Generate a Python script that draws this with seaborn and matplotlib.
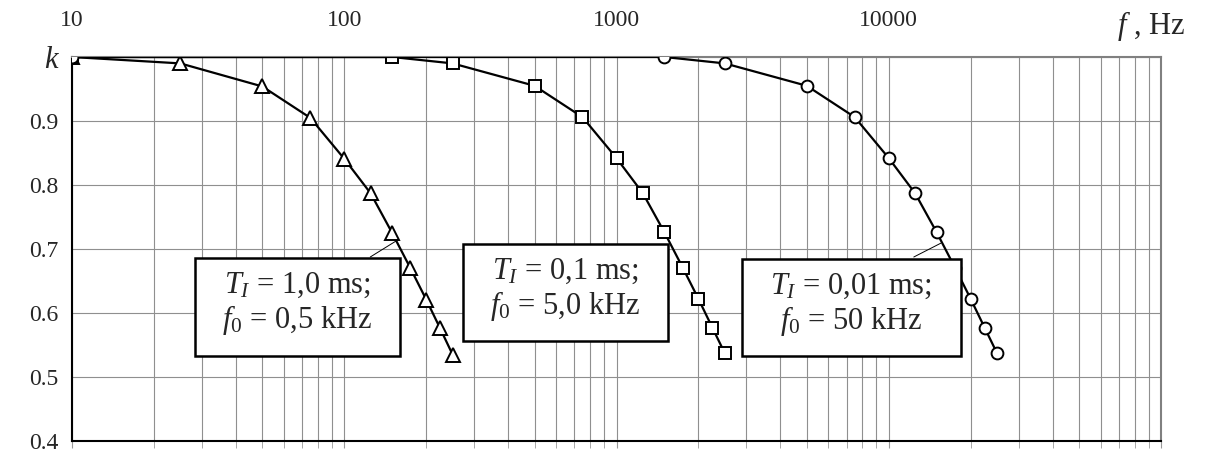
import numpy as np
import matplotlib
matplotlib.use("Agg")
import matplotlib.pyplot as plt
from matplotlib.patches import Rectangle
from matplotlib.ticker import FixedLocator, LogLocator, NullFormatter
import seaborn as sns

# ── Data ───────────────────────────────────────────────────────────────────────
f_tri = [10, 25, 50, 75, 100, 125, 150, 175, 200, 225, 250]
k_tri = [1.0, 0.99, 0.954, 0.905, 0.841, 0.787, 0.725, 0.670, 0.621, 0.576, 0.535]

f_sq = [10, 150, 250, 500, 750, 1000, 1250, 1500, 1750, 2000, 2250, 2500]
k_sq = [1.0, 1.0, 0.99, 0.955, 0.906, 0.842, 0.787, 0.726, 0.671, 0.622, 0.577, 0.537]

f_circ = [10, 1500, 2500, 5000, 7500, 10000, 12500, 15000, 17500, 20000, 22500, 25000]
k_circ = [1.0, 1.0, 0.99, 0.955, 0.906, 0.842, 0.787, 0.726, 0.671, 0.622, 0.577, 0.537]

x_ticks = [10, 100, 1000, 10000, 100000]
x_labels = ["10", "100", "1000", "10000", ""]
y_ticks = [0.4, 0.5, 0.6, 0.7, 0.8, 0.9, 1.0]
y_labels = ["0.4", "0.5", "0.6", "0.7", "0.8", "0.9", "k"]

box_texts = [
    "$T_I$ = 1,0 ms;\n$f_0$ = 0,5 kHz",
    "$T_I$ = 0,1 ms;\n$f_0$ = 5,0 kHz",
    "$T_I$ = 0,01 ms;\n$f_0$ = 50 kHz",
]

# ── Style ──────────────────────────────────────────────────────────────────────
sns.set_style("white")
plt.rcParams["font.family"] = ["Liberation Serif", "DejaVu Serif"]
plt.rcParams["mathtext.fontset"] = "custom"
plt.rcParams["mathtext.rm"] = "Liberation Serif"
plt.rcParams["mathtext.it"] = "Liberation Serif:italic"

fig = plt.figure(figsize=(12.21, 4.61), dpi=100)
ax = fig.add_axes([72 / 1221, 20 / 461, 1089 / 1221, 384 / 461])

series = [
    (f_tri, k_tri, "^", 10),
    (f_sq, k_sq, "s", 8),
    (f_circ, k_circ, "o", 8.5),
]
for f, k, m, ms in series:
    sns.lineplot(
        x=f, y=k, ax=ax, color="black", lw=1.6, sort=False, estimator=None,
        marker=m, markersize=ms, markerfacecolor="white",
        markeredgecolor="black", markeredgewidth=1.4, zorder=3,
    )

ax.set_xscale("log")
ax.set_xlim(10, 100000)
ax.set_ylim(0.4, 1.0)

ax.xaxis.set_major_locator(FixedLocator(x_ticks))
ax.set_xticklabels(x_labels)
ax.xaxis.set_minor_locator(LogLocator(base=10, subs=np.arange(2, 10)))
ax.xaxis.set_minor_formatter(NullFormatter())
ax.tick_params(axis="x", which="both", bottom=True, top=False,
               labelbottom=False, labeltop=True, labelsize=17, pad=14,
               length=5, color="#999999", direction="out")
ax.set_yticks(y_ticks)
ax.set_yticklabels(y_labels)
ax.tick_params(axis="y", labelsize=17, length=6, color="black", direction="out", pad=4)
k_lab = ax.get_yticklabels()[-1]
k_lab.set_fontstyle("italic")
k_lab.set_fontsize(22)

ax.grid(True, which="both", axis="x", color="#8f8f8f", lw=0.8)
ax.grid(True, which="major", axis="y", color="#8f8f8f", lw=0.8)

for side in ["left", "bottom"]:
    ax.spines[side].set_color("black")
    ax.spines[side].set_linewidth(1.5)
for side in ["top", "right"]:
    ax.spines[side].set_color("#808080")
    ax.spines[side].set_linewidth(1.5)

ax.text(1.022, 1.08, "$f$ , Hz", transform=ax.transAxes, ha="right", va="center",
        fontsize=22, clip_on=False)

# ── Annotation boxes ───────────────────────────────────────────────────────────
# leader lines
ax.plot([124.6, 157], [0.6875, 0.714], color="black", lw=0.7, zorder=2)
ax.plot([12360, 15520], [0.6875, 0.709], color="black", lw=0.7, zorder=2)

# (centre x, centre y, width, height) in axes fraction
box_geom = [(0.2071, 0.349, 0.1882, 0.255),
            (0.4532, 0.3867, 0.1882, 0.2526),
            (0.7158, 0.3477, 0.2011, 0.2526)]
for (cx, cy, w, h), txt in zip(box_geom, box_texts):
    ax.add_patch(Rectangle((cx - w / 2, cy - h / 2), w, h, transform=ax.transAxes,
                           fc="white", ec="black", lw=1.8, zorder=5))
    ax.text(cx, cy + 0.008, txt, transform=ax.transAxes, ha="center", va="center",
            fontsize=22, linespacing=1.12, zorder=6)

plt.savefig("out.png", dpi=100)
plt.close()
